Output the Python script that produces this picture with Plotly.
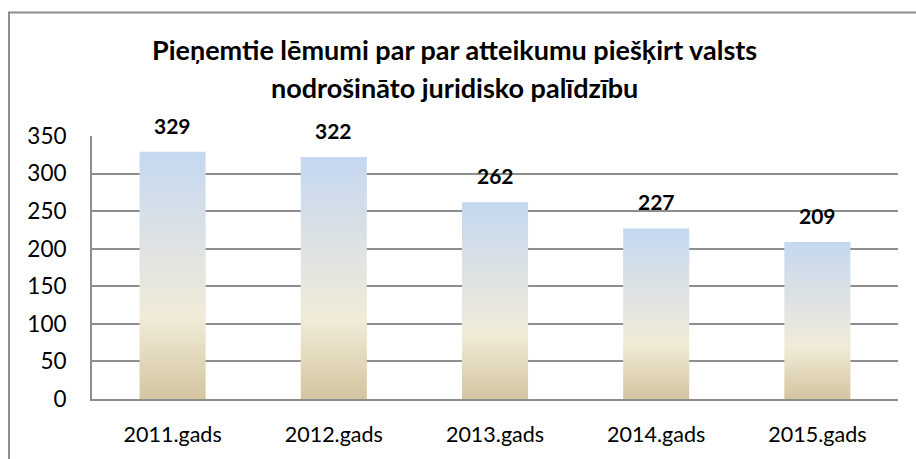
import plotly.graph_objects as go

# ---- data ----
categories = ["2011.gads", "2012.gads", "2013.gads", "2014.gads", "2015.gads"]
values = [329, 322, 262, 227, 209]
title_lines = ["Pieņemtie lēmumi par par atteikumu piešķirt valsts",
               "nodrošināto juridisko palīdzību"]
y_ticks = [0, 50, 100, 150, 200, 250, 300, 350]

# ---- layout constants (pixels) ----
W, H = 916, 459
L, R, T, B = 92, 18, 136, 57
PW, PH = W - L - R, H - T - B
BAR_W = 0.41
FONT = "Lato, 'Open Sans', sans-serif"
GRID = "#8e8e8e"


def px_x(px):
    return (px - L) / PW


def px_y(py):
    return (H - B - py) / PH


gradient = [[0.0, "#d3c59f"], [0.33, "#f1ebd8"], [1.0, "#c5d8f1"]]

fig = go.Figure()
for i, v in enumerate(values):
    xs = [i - BAR_W / 2, i + BAR_W / 2, i + BAR_W / 2, i - BAR_W / 2, i - BAR_W / 2]
    ys = [0, 0, v, v, 0]
    fig.add_trace(go.Scatter(
        x=xs, y=ys, mode="lines", fill="toself",
        line=dict(width=0, color="rgba(0,0,0,0)"),
        fillgradient=dict(type="vertical", colorscale=gradient),
        hoverinfo="skip", showlegend=False,
    ))

annotations = []
for i, v in enumerate(values):
    annotations.append(dict(
        x=i, y=v, xref="x", yref="y", text=f"<b>{v}</b>", showarrow=False,
        yanchor="bottom", yshift=12,
        font=dict(family=FONT, size=21, color="#000000"),
    ))

for text, py in zip(title_lines, [49, 87]):
    annotations.append(dict(
        x=px_x(454), y=px_y(py), xref="paper", yref="paper",
        text=f"<b>{text}</b>", showarrow=False, xanchor="center", yanchor="middle",
        font=dict(family=FONT, size=27, color="#000000"),
    ))

fig.update_layout(
    width=W, height=H,
    margin=dict(l=L, r=R, t=T, b=B, pad=0),
    paper_bgcolor="white", plot_bgcolor="white",
    showlegend=False,
    annotations=annotations,
    shapes=[dict(
        type="rect", xref="paper", yref="paper",
        x0=px_x(9), x1=px_x(W + 20), y0=px_y(11), y1=px_y(H + 20),
        line=dict(color=GRID, width=2), fillcolor="rgba(0,0,0,0)", layer="above",
    )],
    xaxis=dict(
        range=[-0.5, len(categories) - 0.5],
        tickmode="array", tickvals=list(range(len(categories))), ticktext=categories,
        showgrid=False, zeroline=False,
        showline=True, linecolor=GRID, linewidth=2,
        ticks="", ticklabelstandoff=15,
        tickfont=dict(family=FONT, size=21.5, color="#000000"),
        fixedrange=True,
    ),
    yaxis=dict(
        range=[0, 350], tickmode="array", tickvals=y_ticks,
        showgrid=True, gridcolor=GRID, gridwidth=1.5,
        zeroline=False, showline=True, linecolor=GRID, linewidth=2,
        ticks="", ticklabelstandoff=19,
        tickfont=dict(family=FONT, size=22.5, color="#000000"),
        fixedrange=True,
    ),
)

fig.write_html(
    "out.html",
    config={"displayModeBar": False},
    post_script="document.body.style.margin='0';document.body.style.overflow='hidden';",
)
